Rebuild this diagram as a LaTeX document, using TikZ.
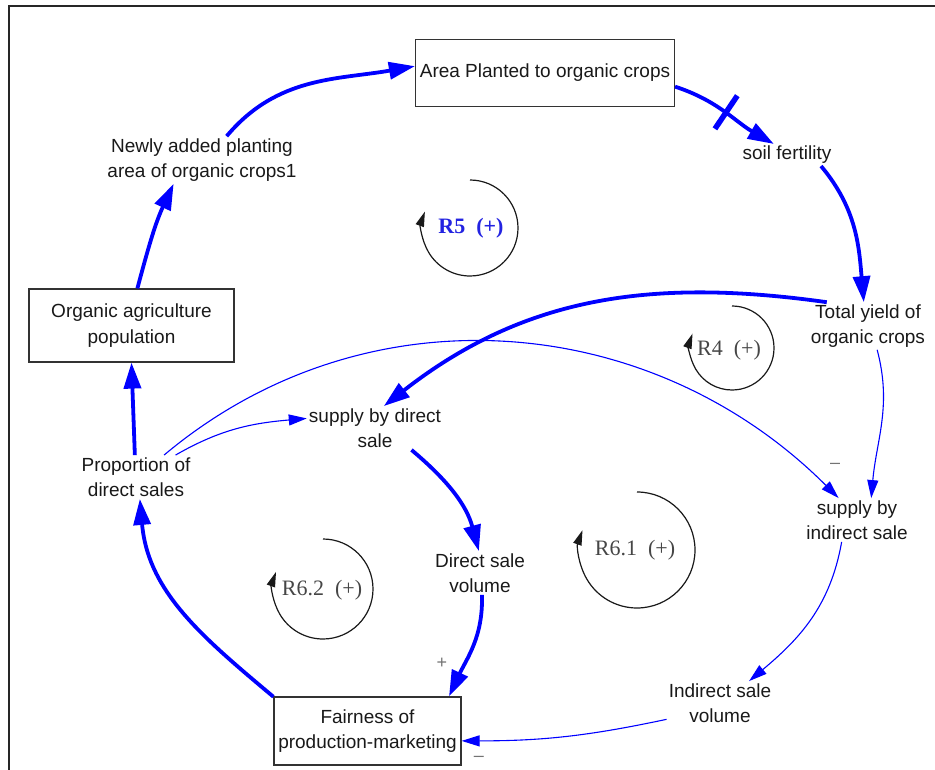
\documentclass[tikz,border=0pt]{standalone}
\usepackage{fontspec}
\setmainfont{Liberation Sans}
\newfontfamily\loopfont{Liberation Serif}
\usetikzlibrary{arrows.meta,decorations.markings}
\definecolor{cldblue}{RGB}{0,0,255}
\definecolor{rfiveblue}{RGB}{35,35,225}
\definecolor{looptext}{RGB}{70,70,70}
\definecolor{vartext}{RGB}{25,25,25}
\tikzset{
  var/.style={font=\fontsize{19}{25.5}\selectfont, align=center, inner sep=2pt, text=vartext},
  boxvar/.style={var, draw=black!80, line width=1.2pt},
  thickarr/.style={draw=cldblue, line width=3.8pt, -{Triangle[length=26pt,width=17pt]}},
  thinarr/.style={draw=cldblue, line width=1.1pt, -{Triangle[length=18pt,width=11pt]}},
  loopmark/.style={draw=black!90, line width=1.2pt, -{Triangle[length=15pt,width=8.5pt]}},
  looplbl/.style={font=\loopfont\fontsize{22}{24}\selectfont, text=looptext, inner sep=0pt},
  signlbl/.style={font=\fontsize{18}{18}\selectfont, text=black!55, inner sep=0pt},
  delaybar/.style={postaction={decorate, decoration={markings,
      mark=at position 0.5 with {\draw[cldblue, line width=5.5pt, -] (0,-20pt) -- (0,20pt);}}}}
}
\begin{document}
\begin{tikzpicture}[x=1pt,y=1pt]
\useasboundingbox (0,0) rectangle (935,-770);
% frame
\draw[line width=1.8pt, black!85] (9,-770) -- (9,-6) -- (935,-6);

% variables
\node[boxvar, minimum width=259pt, minimum height=67pt] (area) at (545,-73) {Area Planted to organic crops};
\node[var] (soil) at (787,-155) {soil fertility};
\node[var] (total) at (868,-326) {Total yield of\\organic crops};
\node[var] (sind) at (857,-520) {supply by\\indirect sale};
\node[var] (ivol) at (720,-703) {Indirect sale\\volume};
\node[boxvar, minimum width=187pt, minimum height=68pt] (fair) at (367.5,-731) {Fairness of\\production-marketing};
\node[var] (dvol) at (480,-573) {Direct sale\\volume};
\node[var] (sdir) at (375,-428) {supply by direct\\sale};
\node[var] (prop) at (136,-477) {Proportion of\\direct sales};
\node[boxvar, minimum width=205pt, minimum height=73pt] (pop) at (131.5,-325.5) {Organic agriculture\\population};
\node[var] (newa) at (202,-160) {Newly added planting\\area of organic crops1};

% connectors
\draw[thickarr] (newa.44) to[out=50,in=190] (area.177);
\draw[thickarr, delaybar] (area.-6) to[out=-18,in=150] (soil.140);
\draw[thickarr] (soil.-18) to[out=-50,in=95] (total.100);
\draw[thickarr] (total.150) to[out=172,in=38] (sdir.68);
\draw[thinarr] (total.-69) to[out=-75,in=85] (sind.57);
\draw[thinarr] (prop.38) to[out=40,in=135] (sind.130);
\draw[thinarr] (prop.29) to[out=30,in=185] (sdir.172);
\draw[thickarr] (sdir.-31) to[out=-40,in=105] (dvol.93);
\draw[thickarr] (dvol.-85) to[out=-88,in=65] (fair.23.7);
\draw[thinarr] (sind.-125) to[out=-100,in=40] (ivol.37);
\draw[thinarr] (ivol.197) to[out=192,in=0] (fair.-6.6);
\draw[thickarr] (fair.160) to[out=140,in=-85] (prop.-80);
\draw[thickarr] (prop.93) -- (pop.south);
\draw[thickarr] (pop.81) to[out=75,in=-115] (newa.-140);

% signs
\node[signlbl] (plus1) at (442,-663) {+};
\node[signlbl] (minus1) at (835,-466) {–};
\node[signlbl] (minus2) at (479,-759) {–};

% loop markers
\coordinate (r5c) at (470,-228);
\draw[loopmark] ([yshift=48pt]r5c) arc[start angle=90, end angle=-200, radius=48pt];
\node[looplbl, font=\loopfont\bfseries\fontsize{22}{24}\selectfont, text=rfiveblue] (r5) at (471,-228) {R5\hspace{0.5em}(+)};

\coordinate (r4c) at (732,-348);
\draw[loopmark] ([yshift=42pt]r4c) arc[start angle=90, end angle=-200, radius=42pt];
\node[looplbl] (r4) at (729,-350) {R4\hspace{0.5em}(+)};

\coordinate (r61c) at (637,-550);
\draw[loopmark] ([yshift=58pt]r61c) arc[start angle=90, end angle=-200, radius=58pt];
\node[looplbl] (r61) at (635,-550) {R6.1\hspace{0.5em}(+)};

\coordinate (r62c) at (323,-589);
\draw[loopmark] ([yshift=50pt]r62c) arc[start angle=90, end angle=-200, radius=50pt];
\node[looplbl] (r62) at (322,-590) {R6.2\hspace{0.5em}(+)};
\end{tikzpicture}
\end{document}
